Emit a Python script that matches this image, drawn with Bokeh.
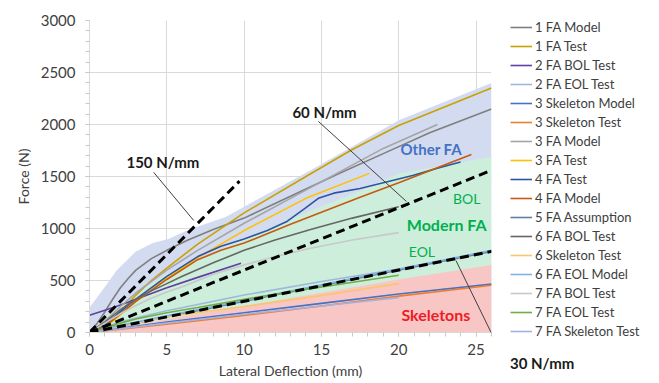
from bokeh.plotting import figure
from bokeh.models import Legend, LegendItem, Label, Arrow, FixedTicker, Range1d
from bokeh.embed import file_html
from bokeh.resources import INLINE

# ---------------- data ----------------
x_ticks = [0, 5, 10, 15, 20, 25]
y_ticks = [0, 500, 1000, 1500, 2000, 2500, 3000]

# shaded bands (upper boundaries)
other_fa_x = [0, 0, 0.5, 1, 1.75, 3, 4.1, 5.1, 6.3, 8.8, 10, 14.3, 20, 26, 26]
other_fa_y = [0, 240, 340, 440, 596, 780, 860, 900, 980, 1110, 1210, 1560, 2040, 2400, 0]
modern_fa_x = [0, 1, 2, 3, 5, 7, 8.5, 10, 14.3, 17.5, 20, 26, 26]
modern_fa_y = [0, 140, 270, 380, 560, 700, 800, 900, 1170, 1360, 1530, 1690, 0]
skeleton_x = [0, 20, 26, 26]
skeleton_y = [0, 510, 650, 0]

# stiffness reference lines (N/mm) and their end deflection
stiff_k = [150, 60, 30]
stiff_xend = [9.7, 26, 26]

fa1_model_x = [0, 0.5, 1, 1.5, 2, 2.5, 3, 4, 5, 6.3, 8, 10, 13, 16, 19, 22, 26]
fa1_model_y = [0, 90, 200, 320, 430, 520, 600, 710, 790, 885, 990, 1100, 1310, 1520, 1720, 1920, 2150]
fa1_test_x = [0, 1, 2, 3, 4, 5, 7, 10, 14, 17, 20, 23, 26]
fa1_test_y = [0, 60, 200, 360, 500, 620, 850, 1150, 1500, 1760, 1990, 2170, 2350]
fa2_bol_x = [0, 1, 2, 3, 5, 7, 9.8]
fa2_bol_y = [165, 215, 265, 320, 430, 530, 665]
fa2_eol_x = [0, 1, 2, 3, 5, 7, 10, 15, 20]
fa2_eol_y = [0, 50, 100, 140, 210, 270, 360, 490, 610]
sk3_model_x = [0, 5, 10, 15, 20, 26]
sk3_model_y = [0, 100, 190, 280, 370, 465]
sk3_test_x = [0, 5, 10, 15, 20, 26]
sk3_test_y = [0, 80, 165, 255, 350, 455]
fa3_model_x = [0, 1, 2, 3, 5, 7, 10, 13, 16, 19, 22.5]
fa3_model_y = [0, 110, 250, 380, 600, 790, 1050, 1290, 1530, 1770, 2000]
fa3_test_x = [0, 1, 2, 3, 5, 7, 10, 14, 18.1]
fa3_test_y = [0, 50, 170, 300, 520, 720, 980, 1290, 1530]
fa4_test_x = [0, 1, 2, 3, 5, 7, 8.5, 10, 11.5, 12.8, 14, 14.8, 15.8, 17.5, 19, 20.9, 22.5, 24]
fa4_test_y = [0, 70, 200, 320, 540, 730, 830, 900, 980, 1070, 1200, 1290, 1340, 1385, 1440, 1510, 1580, 1640]
fa4_model_x = [0, 1, 2, 3, 5, 7, 8.5, 10, 13, 17.5, 20, 24.7]
fa4_model_y = [0, 60, 180, 300, 510, 700, 790, 860, 1040, 1300, 1440, 1711]
fa5_assump_x = [0, 26]
fa5_assump_y = [0, 780]
fa6_bol_x = [0, 1, 2, 3, 4, 5, 6, 8, 10, 12, 14.3, 17, 20]
fa6_bol_y = [0, 100, 220, 320, 400, 470, 540, 670, 790, 890, 990, 1100, 1210]
sk6_test_x = [0, 2, 5, 10, 14.3, 20]
sk6_test_y = [0, 60, 150, 250, 340, 470]
fa6_eol_x = [0, 2, 5, 10, 15, 20, 26]
fa6_eol_y = [0, 70, 160, 310, 460, 610, 790]
fa7_bol_x = [0, 1, 2, 3, 4, 5, 6, 8, 10, 12, 14.3, 17, 20]
fa7_bol_y = [0, 90, 180, 260, 330, 390, 440, 560, 650, 730, 810, 890, 960]
fa7_eol_x = [0, 1, 2, 3, 5, 7, 10, 14.3, 20]
fa7_eol_y = [0, 45, 90, 130, 190, 240, 320, 420, 550]
fa7_sk_x = [0, 5, 10, 15, 20]
fa7_sk_y = [0, 90, 175, 255, 335]

series = [
    ("1 FA Model", fa1_model_x, fa1_model_y, "#7f7f7f"),
    ("1 FA Test", fa1_test_x, fa1_test_y, "#c9a100"),
    ("2 FA BOL Test", fa2_bol_x, fa2_bol_y, "#6040a0"),
    ("2 FA EOL Test", fa2_eol_x, fa2_eol_y, "#9db8dc"),
    ("3 Skeleton Model", sk3_model_x, sk3_model_y, "#4472c4"),
    ("3 Skeleton Test", sk3_test_x, sk3_test_y, "#ed7d31"),
    ("3 FA Model", fa3_model_x, fa3_model_y, "#a5a5a5"),
    ("3 FA Test", fa3_test_x, fa3_test_y, "#ffc000"),
    ("4 FA Test", fa4_test_x, fa4_test_y, "#2e55a0"),
    ("4 FA Model", fa4_model_x, fa4_model_y, "#c55a11"),
    ("5 FA Assumption", fa5_assump_x, fa5_assump_y, "#5b7fa6"),
    ("6 FA BOL Test", fa6_bol_x, fa6_bol_y, "#666666"),
    ("6 Skeleton Test", sk6_test_x, sk6_test_y, "#f9c56e"),
    ("6 FA EOL Model", fa6_eol_x, fa6_eol_y, "#7fb2e5"),
    ("7 FA BOL Test", fa7_bol_x, fa7_bol_y, "#c8c8c8"),
    ("7 FA EOL Test", fa7_eol_x, fa7_eol_y, "#70ad47"),
    ("7 FA Skeleton Test", fa7_sk_x, fa7_sk_y, "#a3b3e0"),
]

FONT = "Lato"
TXT = "#404040"

p = figure(width=659, height=383, frame_width=402, frame_height=312,
           output_backend="svg", toolbar_location=None,
           x_range=Range1d(0, 26), y_range=Range1d(0, 3000),
           min_border_left=89, min_border_top=20, min_border_right=0,
           min_border_bottom=51)
p.outline_line_color = None
p.background_fill_color = "white"

# bands
p.patch(other_fa_x, other_fa_y, fill_color="#d3dbf1", line_color=None)
p.patch(modern_fa_x, modern_fa_y, fill_color="#cdeedb", line_color=None)
p.patch(skeleton_x, skeleton_y, fill_color="#f9c6c6", line_color=None)

items = []
for name, xs, ys, col in series:
    r = p.line(xs, ys, line_color=col, line_width=1.6)
    items.append(LegendItem(label=name, renderers=[r]))

for k, xe in zip(stiff_k, stiff_xend):
    p.line([0, xe], [0, k * xe], line_color="black", line_width=3, line_dash="9 5")

# axes
p.xaxis.ticker = FixedTicker(ticks=x_ticks, minor_ticks=list(range(0, 27)))
p.yaxis.ticker = FixedTicker(ticks=y_ticks, minor_ticks=list(range(0, 3001, 100)))
p.xgrid.grid_line_color = "#d9d9d9"
p.ygrid.grid_line_color = "#d9d9d9"
for ax in (p.xaxis[0], p.yaxis[0]):
    ax.axis_line_color = "#d9d9d9"
    ax.major_tick_line_color = "#c8c8c8"
    ax.minor_tick_line_color = "#c8c8c8"
    ax.major_tick_in = 0
    ax.minor_tick_in = 0
    ax.major_tick_out = 4
    ax.minor_tick_out = 4
    ax.major_label_text_font = FONT
    ax.major_label_text_font_size = "15px"
    ax.major_label_text_color = TXT
    ax.axis_label_text_font = FONT
    ax.axis_label_text_font_size = "14px"
    ax.axis_label_text_font_style = "normal"
    ax.axis_label_text_color = TXT
p.xaxis.axis_label = "Lateral Deflection (mm)"
p.yaxis.axis_label = "Force (N)"
p.xaxis.major_label_standoff = 7
p.xaxis.axis_label_standoff = 4
p.yaxis.major_label_standoff = 10
p.yaxis.axis_label_standoff = 6

legend = Legend(items=items, location=(19, -40), orientation="vertical",
                label_text_font=FONT, label_text_font_size="13px",
                label_text_color=TXT, glyph_width=22, glyph_height=16,
                label_height=16, spacing=3, label_standoff=3, padding=0,
                margin=0, border_line_color=None, background_fill_alpha=0,
                title="30 N/mm", title_text_font=FONT, title_text_font_size="15px",
                title_text_font_style="bold", title_text_color="#1a1a1a",
                title_standoff=15)
legend.title_location = "below"
p.add_layout(legend, "right")

# annotations
def lab(x, y, t, color, size, style="bold"):
    p.add_layout(Label(x=x, y=y, text=t, text_color=color, text_font=FONT,
                       text_font_size=size, text_font_style=style,
                       text_align="center", text_baseline="middle"))

lab(4.75, 1640, "150 N/mm", "#1a1a1a", "15px")
lab(15.2, 2125, "60 N/mm", "#1a1a1a", "15px")
lab(22.1, 1765, "Other FA", "#4472c4", "15px")
lab(24.4, 1290, "BOL", "#00b050", "14px", "normal")
lab(23.1, 1040, "Modern FA", "#00b050", "16px")
lab(21.5, 780, "EOL", "#00b050", "14px", "normal")
lab(22.4, 173, "Skeletons", "#ee1c25", "16px")

for xs0, ys0, xe0, ye0 in [(4.15, 1540, 6.74, 1077), (14.8, 2030, 20.5, 1260), (23.7, 692, 26.6, -190)]:
    p.add_layout(Arrow(end=None, x_start=xs0, y_start=ys0, x_end=xe0, y_end=ye0,
                       line_color="#404040", line_width=1))

open("out.html", "w").write(file_html(p, INLINE))
